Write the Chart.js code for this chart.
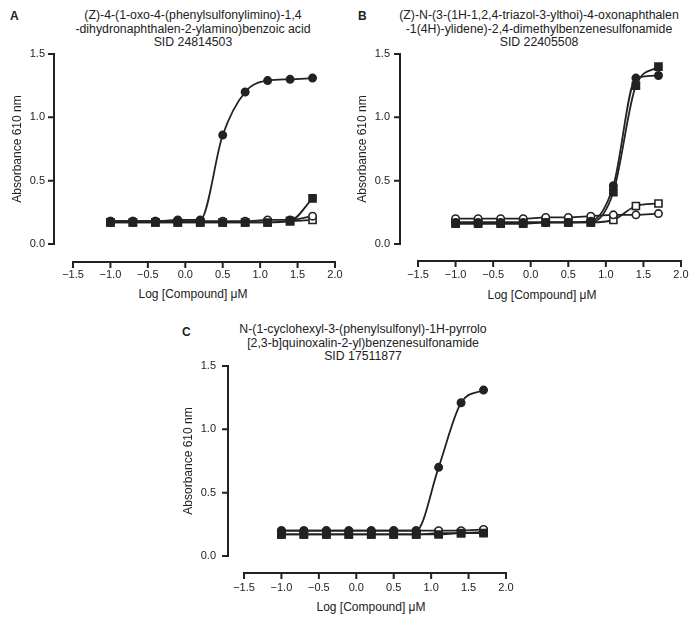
<!DOCTYPE html>
<html><head><meta charset="utf-8">
<script src="https://cdn.jsdelivr.net/npm/chart.js@4.4.1/dist/chart.umd.min.js"></script>
<style>
html,body{margin:0;padding:0;background:#fff;}
body{width:698px;height:624px;position:relative;overflow:hidden;font-family:"Liberation Sans",Arial,sans-serif;color:#222;}
canvas{position:absolute;}
.title{position:absolute;text-align:center;font-size:12.3px;line-height:13.5px;white-space:nowrap;transform:translateX(-50%);}
.letter{position:absolute;font-weight:bold;font-size:12px;line-height:12px;}
.xt{position:absolute;font-size:12px;line-height:14px;white-space:nowrap;transform:translate(-50%,-50%);}
</style></head><body>
<div class="letter" style="left:10px;top:10px">A</div>
<div class="letter" style="left:358px;top:10px">B</div>
<div class="letter" style="left:182px;top:326px">C</div>
<div class="title" style="left:193px;top:9px">(Z)-4-(1-oxo-4-(phenylsulfonylimino)-1,4<br>-dihydronaphthalen-2-ylamino)benzoic acid<br>SID 24814503</div>
<div class="title" style="left:539px;top:9px">(Z)-N-(3-(1H-1,2,4-triazol-3-ylthoi)-4-oxonaphthalen<br>-1(4H)-ylidene)-2,4-dimethylbenzenesulfonamide<br>SID 22405508</div>
<div class="title" style="left:363px;top:323px">N-(1-cyclohexyl-3-(phenylsulfonyl)-1H-pyrrolo<br>[2,3-b]quinoxalin-2-yl)benzenesulfonamide<br>SID 17511877</div>
<div class="xt" style="left:193px;top:294px">Log [Compound] μM</div>
<div class="xt" style="left:542px;top:295px">Log [Compound] μM</div>
<div class="xt" style="left:371px;top:607px">Log [Compound] μM</div>
<canvas id="cA" width="347" height="310" style="left:0px;top:0px"></canvas>
<canvas id="cB" width="348" height="310" style="left:345px;top:0px"></canvas>
<canvas id="cC" width="348" height="312" style="left:170px;top:312px"></canvas>
<script>
// ---- data ----
const logConc = [-1.0, -0.7, -0.4, -0.1, 0.2, 0.5, 0.8, 1.1, 1.4, 1.7];
const xTickLabels = ['\u22121.5', '\u22121.0', '\u22120.5', '0.0', '0.5', '1.0', '1.5', '2.0'];
const yTickLabels = ['0.0', '0.5', '1.0', '1.5'];
const yAxisTitle = 'Absorbance 610 nm';

// Panel A
const aFilledCircle = [0.18, 0.18, 0.18, 0.19, 0.19, 0.86, 1.20, 1.29, 1.30, 1.31];
const aFilledSquare = [0.17, 0.17, 0.17, 0.17, 0.17, 0.17, 0.17, 0.17, 0.18, 0.36];
const aOpenCircle   = [0.18, 0.18, 0.18, 0.18, 0.18, 0.18, 0.18, 0.19, 0.19, 0.22];
const aOpenSquare   = [0.17, 0.17, 0.17, 0.17, 0.17, 0.17, 0.17, 0.17, 0.18, 0.19];
// Panel B
const bFilledCircle = [0.17, 0.17, 0.17, 0.17, 0.17, 0.17, 0.18, 0.46, 1.31, 1.33];
const bFilledSquare = [0.16, 0.16, 0.16, 0.16, 0.17, 0.17, 0.17, 0.41, 1.25, 1.40];
const bOpenCircle   = [0.20, 0.20, 0.20, 0.20, 0.21, 0.21, 0.22, 0.23, 0.23, 0.24];
const bOpenSquare   = [0.17, 0.17, 0.17, 0.17, 0.17, 0.17, 0.17, 0.19, 0.30, 0.32];
// Panel C
const cFilledCircle = [0.20, 0.20, 0.20, 0.20, 0.20, 0.20, 0.20, 0.70, 1.21, 1.31];
const cFilledSquare = [0.17, 0.17, 0.17, 0.17, 0.17, 0.17, 0.17, 0.17, 0.18, 0.18];
const cOpenCircle   = [0.20, 0.20, 0.20, 0.20, 0.20, 0.20, 0.20, 0.20, 0.20, 0.21];
const cOpenSquare   = [0.17, 0.17, 0.17, 0.17, 0.17, 0.17, 0.17, 0.18, 0.18, 0.19];

Chart.defaults.font.family = '"Liberation Sans", Arial, sans-serif';
Chart.defaults.color = '#222';

const INK = '#222';

const detachedAxes = {
  id: 'detachedAxes',
  afterDraw(chart, args, opts) {
    const {ctx, chartArea, scales: {x, y}} = chart;
    const ax = chartArea.left - opts.gapX;
    const ay = chartArea.bottom + opts.gapY;
    ctx.save();
    ctx.strokeStyle = INK;
    ctx.lineWidth = 2;
    ctx.beginPath();
    ctx.moveTo(ax, y.getPixelForValue(y.min) + 1);
    ctx.lineTo(ax, y.getPixelForValue(y.max) - 1);
    y.ticks.forEach(t => { const py = y.getPixelForValue(t.value); ctx.moveTo(ax + 1, py); ctx.lineTo(ax - 6, py); });
    ctx.moveTo(x.getPixelForValue(x.min) - 1, ay);
    ctx.lineTo(x.getPixelForValue(x.max) + 1, ay);
    x.ticks.forEach(t => { const px = x.getPixelForValue(t.value); ctx.moveTo(px, ay - 1); ctx.lineTo(px, ay + 6); });
    ctx.stroke();
    ctx.restore();
  }
};

function series(vals, style, filled) {
  return {
    data: logConc.map((x, i) => ({x: x, y: vals[i]})),
    borderColor: INK,
    borderWidth: 1.8,
    pointStyle: style,
    pointRadius: style === 'rect' ? 5 : 3.7,
    pointBorderWidth: 1.6,
    pointBorderColor: INK,
    pointBackgroundColor: filled ? INK : '#fff',
    cubicInterpolationMode: 'monotone',
    fill: false,
    clip: false
  };
}

function makeChart(id, sets, g) {
  new Chart(document.getElementById(id), {
    type: 'line',
    data: {datasets: [
      series(sets[0], 'circle', true),
      series(sets[1], 'rect', true),
      series(sets[2], 'circle', false),
      series(sets[3], 'rect', false)
    ]},
    options: {
      responsive: false,
      animation: false,
      devicePixelRatio: 1,
      layout: {padding: {left: 0, top: 54, right: 12, bottom: 0}, autoPadding: false},
      plugins: {legend: {display: false}, tooltip: {enabled: false}, detachedAxes: {gapX: g.gapX, gapY: g.gapY}},
      scales: {
        x: {
          type: 'linear', min: -1.5, max: 2.0,
          grid: {display: false, drawTicks: false}, border: {display: false},
          ticks: {stepSize: 0.5, padding: g.xPad, font: {size: 11}, color: INK, maxRotation: 0,
                  callback: (v, i) => xTickLabels[i]},
          afterFit: s => { s.height = g.xH; s.paddingLeft = 0; s.paddingRight = 0; }
        },
        y: {
          min: 0, max: 1.5,
          grid: {display: false, drawTicks: false}, border: {display: false},
          ticks: {stepSize: 0.5, padding: 28, font: {size: 11}, color: INK,
                  callback: (v, i) => yTickLabels[i]},
          title: {display: true, text: yAxisTitle, font: {size: 12}, color: INK, padding: {top: g.tPad, bottom: 0}},
          afterFit: s => { s.width = g.yW; s.paddingTop = 0; s.paddingBottom = 0; }
        }
      }
    },
    plugins: [detachedAxes]
  });
}

makeChart('cA', [aFilledCircle, aFilledSquare, aOpenCircle, aOpenSquare], {yW: 73, xH: 66, xPad: 24, tPad: 10, gapX: 19, gapY: 18});
makeChart('cB', [bFilledCircle, bFilledSquare, bOpenCircle, bOpenSquare], {yW: 73, xH: 66, xPad: 24, tPad: 10, gapX: 18, gapY: 17});
makeChart('cC', [cFilledCircle, cFilledSquare, cOpenCircle, cOpenSquare], {yW: 74, xH: 68, xPad: 25, tPad: 11, gapX: 16, gapY: 17});
</script>
</body></html>
